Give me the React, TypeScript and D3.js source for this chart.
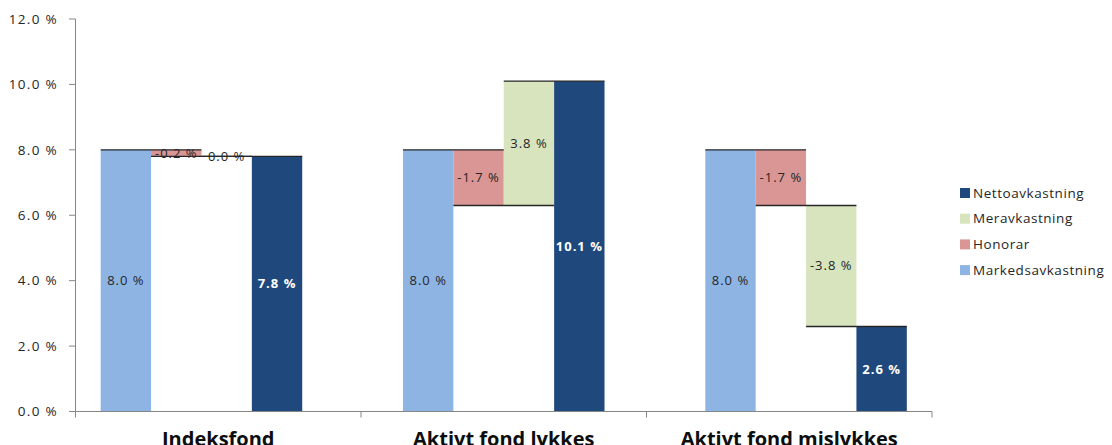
import React from "react";
import * as d3 from "d3";

// Categories and series (percent)
const categories = ["Indeksfond", "Aktivt fond lykkes", "Aktivt fond mislykkes"];
const markedsavkastning = [8.0, 8.0, 8.0];
const honorar = [-0.2, -1.7, -1.7];
const meravkastning = [0.0, 3.8, -3.8];
const nettoavkastning = [7.8, 10.1, 2.6];
const yTicks = [0, 2, 4, 6, 8, 10, 12];

const legendNames = ["Nettoavkastning", "Meravkastning", "Honorar", "Markedsavkastning"];
const COLORS: Record<string, string> = {
  Markedsavkastning: "#8EB4E3",
  Honorar: "#D99694",
  Meravkastning: "#D7E4BD",
  Nettoavkastning: "#1F497D",
};

const W = 1112;
const H = 445;
const FONT = "'Open Sans', 'Liberation Sans', sans-serif";

const fmt = (v: number) => v.toFixed(1) + " %";

export default function App() {
  const plotLeft = 75.5;
  const plotRight = 932;
  const y = d3.scaleLinear().domain([0, 12]).range([411.5, 19]);
  // 17 equal slots: four adjacent bars per group, two empty slots between groups
  const xs = d3.scaleLinear().domain([0, 17]).range([plotLeft, plotRight]);
  const band = d3.scaleBand<string>().domain(categories).range([plotLeft, plotRight]);
  const slotW = xs(1) - xs(0);

  const groups = categories.map((cat, g) => {
    const m = markedsavkastning[g];
    const h = honorar[g];
    const r = meravkastning[g];
    const n = nettoavkastning[g];
    // running levels of the waterfall; the last step closes on the net total
    const levels = [0, m, m + h, n];
    const steps = [
      { name: "Markedsavkastning", v: m, from: levels[0], to: levels[1] },
      { name: "Honorar", v: h, from: levels[1], to: levels[2] },
      { name: "Meravkastning", v: r, from: levels[2], to: levels[3] },
      { name: "Nettoavkastning", v: n, from: 0, to: n },
    ];
    return { cat, g, levels, steps };
  });

  const slotLeft = (g: number, i: number) => xs(g * 6 + 0.5 + i);

  return (
    <svg
      width={W}
      height={H}
      style={{ position: "absolute", left: 0, top: 0, background: "#fff" }}
      fontFamily={FONT}
    >
      {/* bars */}
      {groups.map((gr) =>
        gr.steps.map((s, i) => {
          const top = y(Math.max(s.from, s.to));
          const bot = y(Math.min(s.from, s.to));
          return (
            <rect
              key={gr.cat + s.name}
              x={slotLeft(gr.g, i)}
              y={top}
              width={slotW}
              height={Math.max(0, bot - top)}
              fill={COLORS[s.name]}
            />
          );
        })
      )}

      {/* connectors between successive steps */}
      {groups.map((gr) =>
        [0, 1, 2].map((i) => (
          <line
            key={gr.cat + "c" + i}
            x1={slotLeft(gr.g, i)}
            x2={slotLeft(gr.g, i + 2)}
            y1={y(gr.levels[i + 1])}
            y2={y(gr.levels[i + 1])}
            stroke="#262626"
            strokeWidth={1.4}
          />
        ))
      )}

      {/* data labels */}
      {groups.map((gr) =>
        gr.steps.map((s, i) => {
          const net = s.name === "Nettoavkastning";
          return (
            <text
              key={gr.cat + s.name + "l"}
              x={slotLeft(gr.g, i) + slotW / 2}
              y={y((s.from + s.to) / 2)}
              dy="0.35em"
              textAnchor="middle"
              fontSize={13}
              letterSpacing={1}
              fontWeight={net ? 700 : 400}
              fill={net ? "#ffffff" : "#262626"}
            >
              {fmt(s.v)}
            </text>
          );
        })
      )}

      {/* y axis */}
      <line x1={plotLeft} x2={plotLeft} y1={y(12)} y2={y(0)} stroke="#868686" strokeWidth={1} />
      {yTicks.map((t) => (
        <g key={"yt" + t}>
          <line x1={69} x2={plotLeft} y1={y(t)} y2={y(t)} stroke="#868686" strokeWidth={1} />
          <text
            x={58}
            y={y(t)}
            dy="0.35em"
            textAnchor="end"
            fontSize={13.5}
            letterSpacing={1.3}
            fill="#262626"
          >
            {fmt(t)}
          </text>
        </g>
      ))}

      {/* x axis */}
      <line x1={plotLeft} x2={plotRight} y1={y(0)} y2={y(0)} stroke="#868686" strokeWidth={1} />
      {[...categories.map((c) => band(c) as number), plotRight].map((px, i) => (
        <line key={"xt" + i} x1={px} x2={px} y1={y(0)} y2={y(0) + 6} stroke="#868686" strokeWidth={1} />
      ))}
      {categories.map((c) => (
        <text
          key={"xl" + c}
          x={(band(c) as number) + band.bandwidth() / 2}
          y={446}
          textAnchor="middle"
          fontSize={20}
          fontWeight={700}
          fill="#0d0d0d"
        >
          {c}
        </text>
      ))}

      {/* legend */}
      {legendNames.map((name, i) => {
        const ly = 193 + i * 25.7;
        return (
          <g key={"lg" + name}>
            <rect x={960} y={ly - 5} width={10} height={10} fill={COLORS[name]} />
            <text x={973} y={ly} dy="0.35em" fontSize={13.5} letterSpacing={0.55} fill="#262626">
              {name}
            </text>
          </g>
        );
      })}
    </svg>
  );
}
